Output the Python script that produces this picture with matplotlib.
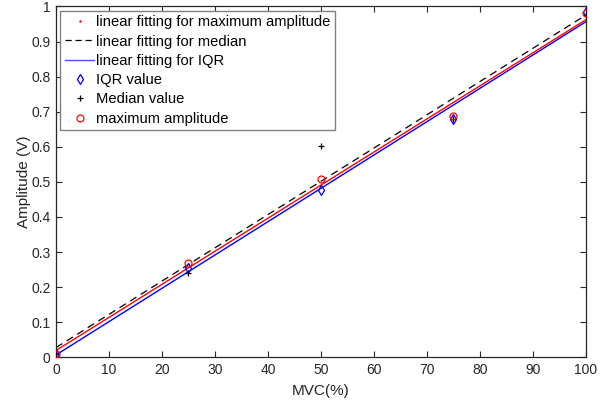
import numpy as np
import matplotlib
matplotlib.use("Agg")
import matplotlib.pyplot as plt
from matplotlib.lines import Line2D

plt.rcParams['font.family'] = ['Liberation Sans', 'DejaVu Sans']

mvc = [0, 25, 50, 75, 100]
max_amp = [0.01, 0.27, 0.507, 0.687, 0.98]
median_val = [0.01, 0.24, 0.603, 0.68, 0.975]
iqr_val = [0.01, 0.255, 0.478, 0.68, 0.985]
xticks = [0, 10, 20, 30, 40, 50, 60, 70, 80, 90, 100]
yticks = [0, 0.1, 0.2, 0.3, 0.4, 0.5, 0.6, 0.7, 0.8, 0.9, 1]

fig = plt.figure(figsize=(6.08, 4.01), dpi=100)
ax = fig.add_axes([0.0921, 0.109, 0.8717, 0.875])

xs = np.array([0, 100])
p_med = np.polyfit(mvc, median_val, 1)
p_max = np.polyfit(mvc, max_amp, 1)
p_iqr = np.polyfit(mvc, iqr_val, 1)

dark = (0.15, 0.15, 0.15)
ax.plot(xs, np.polyval(p_med, xs), color='k', ls=(0, (6, 4)), lw=0.9, zorder=2)
ax.plot(xs, np.polyval(p_iqr, xs), color='#0000ff', lw=1.0, zorder=2)
ax.plot(xs, np.polyval(p_max, xs), color='#ff0000', lw=1.0, zorder=3)
ax.plot(mvc, iqr_val, ls='none', marker='d', mfc='none', mec='#0000ff', ms=5, mew=0.9, zorder=4)
ax.plot(mvc, median_val, ls='none', marker='+', color='k', ms=5, mew=0.9, zorder=4)
ax.plot(mvc, max_amp, ls='none', marker='o', mfc='none', mec='#ff0000', ms=5, mew=0.9, zorder=5)

handles = [
    Line2D([], [], ls='none', marker='.', color='#ff0000', ms=1.5),
    Line2D([], [], color='k', ls=(0, (5, 3)), lw=0.9),
    Line2D([], [], color='#0000ff', lw=1.0, alpha=0.7),
    Line2D([], [], ls='none', marker='d', mfc='none', mec='#0000ff', ms=5, mew=0.9),
    Line2D([], [], ls='none', marker='+', color='k', ms=5, mew=0.9),
    Line2D([], [], ls='none', marker='o', mfc='none', mec='#ff0000', ms=5, mew=0.9),
]
labels = ['linear fitting for maximum amplitude', 'linear fitting for median',
          'linear fitting for IQR', 'IQR value', 'Median value', 'maximum amplitude']
leg = ax.legend(handles, labels, loc='upper left', fontsize=10.6, frameon=True,
                fancybox=False, edgecolor='#808080', framealpha=1,
                borderpad=0.3, labelspacing=0.36, handlelength=2.0,
                handletextpad=0.1, borderaxespad=0.3)
leg.get_frame().set_linewidth(1.0)

ax.set_xlim(0, 100)
ax.set_ylim(0, 1)
ax.set_xticks(xticks)
ax.set_yticks(yticks)
ax.set_yticklabels(['0', '0.1', '0.2', '0.3', '0.4', '0.5', '0.6', '0.7', '0.8', '0.9', '1'])
ax.tick_params(direction='in', top=True, right=True, labelsize=10, colors=dark,
               length=4, width=0.8, pad=4)
for s in ax.spines.values():
    s.set_color(dark)
    s.set_linewidth(0.9)
ax.set_xlabel('MVC(%)', fontsize=11, color=dark, labelpad=5)
ax.set_ylabel('Amplitude (V)', fontsize=11, color=dark, labelpad=0)

fig.savefig('out.png', dpi=100)
